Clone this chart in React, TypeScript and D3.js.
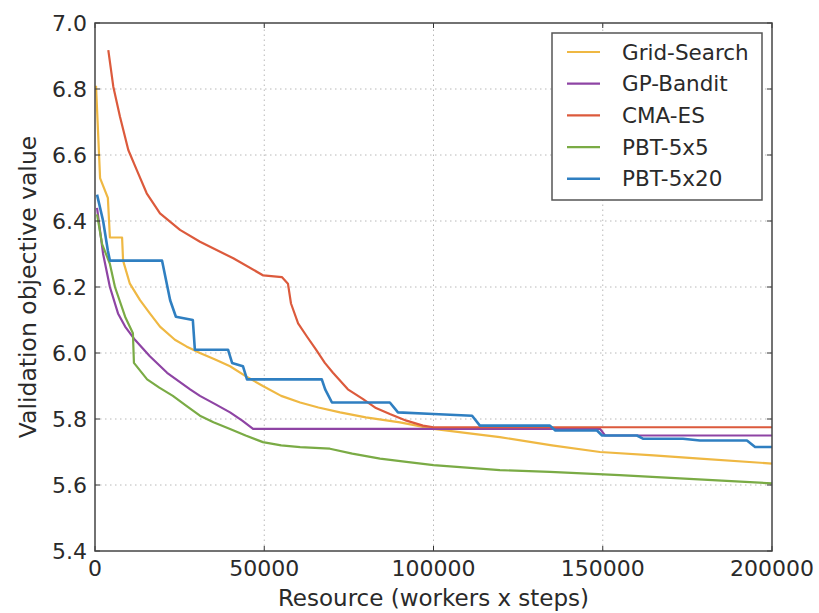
import * as d3 from 'd3';

const W = 819;
const H = 613;
const margin = { top: 23, right: 47, bottom: 62, left: 95 };

const xTicks = [0, 50000, 100000, 150000, 200000];
const yTicks = [5.4, 5.6, 5.8, 6.0, 6.2, 6.4, 6.6, 6.8, 7.0];

const seriesNames = ['Grid-Search', 'GP-Bandit', 'CMA-ES', 'PBT-5x5', 'PBT-5x20'];
const seriesColors = ['#efb843', '#8e44a4', '#dc5a3c', '#7aab45', '#2f7fc1'];

const gridSearch: [number, number][] = [
  [300, 6.81], [1500, 6.53], [3800, 6.47], [4400, 6.35], [8000, 6.35], [8300, 6.28],
  [10300, 6.21], [13300, 6.16], [16200, 6.12], [19200, 6.08], [23600, 6.04],
  [27000, 6.02], [31000, 6.0], [35500, 5.98], [39900, 5.96], [44500, 5.93],
  [49600, 5.9], [55000, 5.87], [60600, 5.85], [66000, 5.835], [72400, 5.82],
  [80000, 5.805], [90100, 5.79], [100000, 5.77], [110000, 5.757], [119600, 5.745],
  [135000, 5.72], [149200, 5.7], [165000, 5.69], [178700, 5.68], [200000, 5.665],
];

const gpBandit: [number, number][] = [
  [600, 6.44], [2400, 6.3], [4400, 6.2], [6800, 6.12], [8900, 6.08], [11800, 6.04],
  [16200, 5.99], [21300, 5.94], [28100, 5.89], [31000, 5.87], [35500, 5.845],
  [39900, 5.82], [43500, 5.795], [46700, 5.77], [149200, 5.77], [150700, 5.75],
  [200000, 5.75],
];

const cmaEs: [number, number][] = [
  [3930, 6.918], [5410, 6.807], [7385, 6.716], [9840, 6.615], [12320, 6.555],
  [15270, 6.484], [19200, 6.423], [25110, 6.373], [31020, 6.337], [40850, 6.287],
  [49720, 6.235], [55200, 6.23], [57000, 6.21], [57900, 6.15], [60000, 6.09],
  [62600, 6.05], [65300, 6.01], [67900, 5.97], [70300, 5.94], [74700, 5.89],
  [79200, 5.86], [83000, 5.833], [87100, 5.815], [92000, 5.795], [96900, 5.78],
  [100000, 5.775], [200000, 5.775],
];

const pbt5x5: [number, number][] = [
  [600, 6.42], [2100, 6.33], [4400, 6.27], [5900, 6.2], [8900, 6.11], [11200, 6.06],
  [11500, 5.97], [15400, 5.92], [19000, 5.895], [23000, 5.87], [27000, 5.84],
  [31000, 5.81], [35000, 5.79], [39900, 5.77], [44500, 5.75], [49600, 5.73],
  [55000, 5.72], [60600, 5.715], [69400, 5.71], [76000, 5.695], [84200, 5.68],
  [92000, 5.67], [100000, 5.66], [119600, 5.645], [134400, 5.64], [155000, 5.63],
  [172800, 5.62], [200000, 5.605],
];

const pbt5x20: [number, number][] = [
  [600, 6.48], [2400, 6.4], [3800, 6.31], [4400, 6.28], [19800, 6.28], [22200, 6.16],
  [23900, 6.11], [28900, 6.1], [29500, 6.01], [39300, 6.01], [40500, 5.97],
  [43700, 5.96], [44900, 5.92], [67000, 5.92], [68000, 5.89], [70000, 5.85],
  [87100, 5.85], [89500, 5.82], [100000, 5.815], [111400, 5.81], [113700, 5.78],
  [134400, 5.78], [136000, 5.765], [148300, 5.765], [149800, 5.75], [160100, 5.75],
  [162000, 5.74], [173700, 5.74], [178700, 5.735], [192600, 5.735], [195000, 5.715],
  [200000, 5.715],
];

const allSeries = [gridSearch, gpBandit, cmaEs, pbt5x5, pbt5x20];

export default function App() {
  const x = d3.scaleLinear().domain([0, 200000]).range([margin.left, W - margin.right]);
  const y = d3.scaleLinear().domain([5.4, 7.0]).range([H - margin.bottom, margin.top]);

  const line = d3.line<[number, number]>()
    .x(d => x(d[0]))
    .y(d => y(d[1]));

  const font = '"DejaVu Sans", sans-serif';
  const x0 = x(0), x1 = x(200000), y0 = y(5.4), y1 = y(7.0);

  // legend box
  const lgX = 552, lgY = 33, lgW = 210, lgH = 167, lgRow = 31.7;

  return (
    <svg width={W} height={H} style={{ position: 'absolute', left: 0, top: 0, background: '#fff' }}>
      {/* grid */}
      <g stroke="#b8b8b8" strokeWidth={1} strokeDasharray="1.5,3.5">
        {xTicks.slice(1, -1).map(t => (
          <line key={'gx' + t} x1={x(t)} x2={x(t)} y1={y0} y2={y1} />
        ))}
        {yTicks.slice(1, -1).map(t => (
          <line key={'gy' + t} x1={x0} x2={x1} y1={y(t)} y2={y(t)} />
        ))}
      </g>

      {/* series */}
      <g fill="none" strokeLinejoin="round">
        {allSeries.map((s, i) => (
          <path key={seriesNames[i]} d={line(s) || ''} stroke={seriesColors[i]}
            strokeWidth={i === 4 ? 2.6 : 2.2} />
        ))}
      </g>

      {/* ticks */}
      <g stroke="#333" strokeWidth={1}>
        {xTicks.map(t => (
          <g key={'tx' + t}>
            <line x1={x(t)} x2={x(t)} y1={y0} y2={y0 - 5} />
            <line x1={x(t)} x2={x(t)} y1={y1} y2={y1 + 5} />
          </g>
        ))}
        {yTicks.map(t => (
          <g key={'ty' + t}>
            <line x1={x0} x2={x0 + 5} y1={y(t)} y2={y(t)} />
            <line x1={x1} x2={x1 - 5} y1={y(t)} y2={y(t)} />
          </g>
        ))}
      </g>

      {/* frame */}
      <rect x={x0} y={y1} width={x1 - x0} height={y0 - y1} fill="none" stroke="#444" strokeWidth={1.5} />

      {/* tick labels */}
      <g fontFamily={font} fontSize={22} fill="#2a2a2a">
        {xTicks.map(t => (
          <text key={'lx' + t} x={x(t)} y={y0 + 25} textAnchor="middle">{d3.format('d')(t)}</text>
        ))}
        {yTicks.map(t => (
          <text key={'ly' + t} x={x0 - 8} y={y(t) + 8} textAnchor="end">{d3.format('.1f')(t)}</text>
        ))}
      </g>

      {/* axis titles */}
      <text x={(x0 + x1) / 2} y={606} textAnchor="middle" fontFamily={font} fontSize={23} fill="#2a2a2a">
        Resource (workers x steps)
      </text>
      <text transform={`translate(36, ${(y0 + y1) / 2}) rotate(-90)`} textAnchor="middle"
        fontFamily={font} fontSize={23.5} fill="#2a2a2a">
        Validation objective value
      </text>

      {/* legend */}
      <rect x={lgX} y={lgY} width={lgW} height={lgH} fill="#fff" stroke="#555" strokeWidth={1.5} />
      {seriesNames.map((name, i) => (
        <g key={'lg' + name}>
          <line x1={567} x2={600} y1={lgY + 19 + i * lgRow} y2={lgY + 19 + i * lgRow}
            stroke={seriesColors[i]} strokeWidth={i === 4 ? 2.6 : 2.2} />
          <text x={622} y={lgY + 19 + i * lgRow + 7.5} fontFamily={font} fontSize={21.5} fill="#2a2a2a">{name}</text>
        </g>
      ))}
    </svg>
  );
}
